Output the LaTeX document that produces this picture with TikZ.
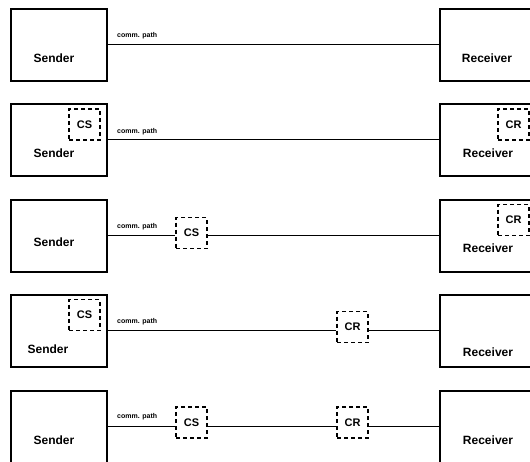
\documentclass[tikz,border=0pt]{standalone}
\usepackage{fontspec}
\setmainfont{Liberation Sans}
\begin{document}
\begin{tikzpicture}[x=1pt,y=-1pt,
  box/.style={draw,line width=1.6pt,minimum width=96pt,minimum height=72pt,inner sep=0pt,anchor=north west},
  sbox/.style={draw,line width=1.5pt,dash pattern=on 4pt off 3pt,minimum width=31pt,minimum height=31pt,inner sep=0pt,font=\bfseries\fontsize{11}{13}\selectfont},
  lbl/.style={font=\bfseries\fontsize{12}{14}\selectfont,inner sep=0pt},
  pathlbl/.style={font=\bfseries\fontsize{7}{8}\selectfont,inner sep=0pt,anchor=west},
  conn/.style={line width=1pt}]
\useasboundingbox (0,0) rectangle (530,461);
\clip (0,0) rectangle (530,461);

% Row 1
\node[box] (s1) at (10,8) {};
\node[box] (r1) at (439,8) {};
\node[lbl] (st1) at (54,58) {Sender};
\node[lbl] (rt1) at (487,58) {Receiver};
\draw[conn] (s1.east) -- (r1.west);
\node[pathlbl] (p1) at (117,35.5) {comm. path};

% Row 2
\node[box] (s2) at (10,103) {};
\node[box] (r2) at (439,103) {};
\node[sbox] (cs2) at (84.5,124.5) {CS};
\node[sbox] (cr2) at (513.5,124.5) {CR};
\node[lbl] (st2) at (54,153) {Sender};
\node[lbl] (rt2) at (488,153) {Receiver};
\draw[conn] (s2.east) -- (r2.west);
\node[pathlbl] (p2) at (117,131.5) {comm. path};

% Row 3
\node[box] (s3) at (10,199) {};
\node[box] (r3) at (439,199) {};
\node[sbox] (cr3) at (513.5,220) {CR};
\node[sbox] (cs3) at (191.5,233) {CS};
\node[lbl] (st3) at (54,242) {Sender};
\node[lbl] (rt3) at (488,248) {Receiver};
\draw[conn] (s3.east) -- (s3.east -| cs3.west);
\draw[conn] (cs3.east |- s3.east) -- (r3.west);
\node[pathlbl] (p3) at (117,227) {comm. path};

% Row 4
\node[box] (s4) at (10,294) {};
\node[box] (r4) at (439,294) {};
\node[sbox] (cs4) at (84.5,315) {CS};
\node[sbox] (cr4) at (352.5,327) {CR};
\node[lbl] (st4) at (48,349) {Sender};
\node[lbl] (rt4) at (488,352) {Receiver};
\draw[conn] (s4.east) -- (s4.east -| cr4.west);
\draw[conn] (cr4.east |- s4.east) -- (r4.west);
\node[pathlbl] (p4) at (117,321.5) {comm. path};

% Row 5
\node[box] (s5) at (10,390) {};
\node[box] (r5) at (439,390) {};
\node[sbox] (cs5) at (191.5,422.5) {CS};
\node[sbox] (cr5) at (352.5,422.5) {CR};
\node[lbl] (st5) at (54,440) {Sender};
\node[lbl] (rt5) at (488,440) {Receiver};
\draw[conn] (s5.east) -- (s5.east -| cs5.west);
\draw[conn] (cs5.east |- s5.east) -- (s5.east -| cr5.west);
\draw[conn] (cr5.east |- s5.east) -- (r5.west);
\node[pathlbl] (p5) at (117,417) {comm. path};
\end{tikzpicture}
\end{document}
